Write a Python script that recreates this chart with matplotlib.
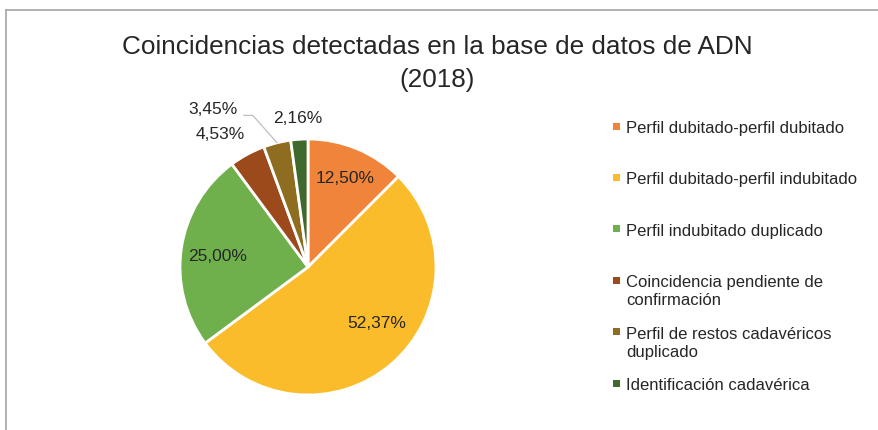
import numpy as np
import matplotlib.pyplot as plt
from matplotlib.patches import Rectangle
from matplotlib.lines import Line2D

plt.rcParams['font.family'] = ['Liberation Sans', 'DejaVu Sans']

# data
categories = ['Perfil dubitado-perfil dubitado',
              'Perfil dubitado-perfil indubitado',
              'Perfil indubitado duplicado',
              'Coincidencia pendiente de\nconfirmación',
              'Perfil de restos cadavéricos\nduplicado',
              'Identificación cadavérica']
values = [12.50, 52.37, 25.00, 4.53, 3.45, 2.16]
labels = ['12,50%', '52,37%', '25,00%', '4,53%', '3,45%', '2,16%']
colors = ['#F0843A', '#FBBC2B', '#70B04C', '#9C4A1C', '#8F6D20', '#40692D']

W, H = 879, 431
fig = plt.figure(figsize=(W / 100, H / 100), dpi=100)

# outer frame (only top and left visible)
fig.add_artist(Line2D([6 / W, 6 / W], [0, 1 - 11 / H], color='#A6A6A6', lw=1.2))
fig.add_artist(Line2D([6 / W, 1], [1 - 11 / H, 1 - 11 / H], color='#A6A6A6', lw=1.2))

fig.text(437 / W, 1 - 63.5 / H,
         'Coincidencias detectadas en la base de datos de ADN\n(2018)',
         ha='center', va='center', fontsize=18.8, color='#262626', linespacing=1.5)

# pie: center (308,268), radius 128 px
cx, cy, r = 308, 268, 128
ax = fig.add_axes([(cx - r) / W, (H - cy - r) / H, 2 * r / W, 2 * r / H])
wedges, _ = ax.pie(values, colors=colors, startangle=90, counterclock=False,
                   wedgeprops=dict(edgecolor='white', linewidth=2))
ax.set_xlim(-1, 1)
ax.set_ylim(-1, 1)
ax.set_aspect('equal')

# label placement per slice: radial distance and angle nudge
label_r = [0.76, 0.69, 0.71, 1.25, 1.44, 1.17]
label_da = [0, 10, 1, 5, 17, 0]
for i, w in enumerate(wedges):
    mid = np.deg2rad((w.theta1 + w.theta2) / 2 + label_da[i])
    x, y = label_r[i] * np.cos(mid), label_r[i] * np.sin(mid)
    if i == 4:
        ang = np.deg2rad((w.theta1 + w.theta2) / 2)
        ex, ey = np.cos(ang), np.sin(ang)
        ax.plot([x + 0.24, x + 0.31, ex], [y - 0.05, y - 0.05, ey],
                color='#BFBFBF', lw=0.9, clip_on=False)
    ax.text(x, y, labels[i], ha='center', va='center', fontsize=12.5,
            color='#262626', clip_on=False)

# legend
for i, (cat, col) in enumerate(zip(categories, colors)):
    yc = 127 + i * 51.4
    fig.add_artist(Rectangle((613 / W, 1 - (yc + 3.5) / H), 7 / W, 7 / H,
                             facecolor=col, edgecolor='none'))
    fig.text(626 / W, 1 - (yc - 6) / H, cat, ha='left', va='top',
             fontsize=12, color='#262626', linespacing=1.25)

fig.savefig('out.png', dpi=100)
